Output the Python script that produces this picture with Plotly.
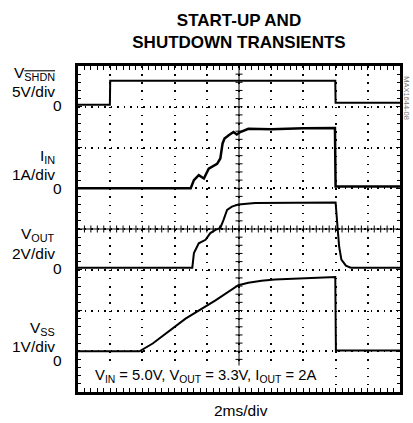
import plotly.graph_objects as go

# ---------------- data (time in ms, 2 ms/div) ----------------
t_shdn = [0, 1.98, 2.0, 15.98, 16.0, 20]
v_shdn = [0.25, 0.25, 3.2, 3.2, 0.5, 0.5]

t_iin = [0, 7.0, 7.2, 7.5, 7.82, 8.12, 8.64, 8.84, 8.98, 9.1, 9.36, 9.66, 9.86,
         10.08, 10.58, 12, 14, 15.96, 16.0, 20]
i_in = [0.0, 0.0, 0.2, 0.32, 0.24, 0.48, 0.6, 0.73, 1.1, 1.22, 1.3, 1.38, 1.32,
        1.38, 1.46, 1.45, 1.47, 1.48, 0.04, 0.04]

t_vout = [0, 7.1, 7.2, 7.5, 7.92, 8.22, 8.54, 8.84, 9.04, 9.26, 9.56, 9.96, 11,
          14, 16.0, 16.12, 16.22, 16.36, 16.64, 16.94, 20]
v_out = [0.1, 0.1, 0.82, 1.3, 1.47, 1.8, 1.96, 2.05, 2.45, 2.94, 3.1, 3.2, 3.28,
         3.3, 3.3, 2.1, 1.14, 0.5, 0.2, 0.1, 0.1]

t_vss = [0, 3.82, 4.64, 6.68, 8.54, 9.96, 10.58, 11.4, 12.22, 13.46, 15.5, 15.98, 16.02, 20]
v_ss = [0.0, 0.0, 0.19, 0.8, 1.25, 1.62, 1.68, 1.73, 1.76, 1.78, 1.81, 1.82, 0.02, 0.02]

# channel scales: zero of each channel sits on its own division
rng_shdn = [-35, 5]   # 5V/div
rng_iin = [-5, 3]     # 1A/div
rng_vout = [-6, 10]   # 2V/div
rng_vss = [-1, 7]     # 1V/div

FONT = "Liberation Sans Narrow, Arial Narrow, Liberation Sans, Arial, sans-serif"
LBL = 15.5

fig = go.Figure()
line = dict(color="black", width=2)
fig.add_trace(go.Scatter(x=t_shdn, y=v_shdn, mode="lines", line=line, yaxis="y", showlegend=False))
fig.add_trace(go.Scatter(x=t_iin, y=i_in, mode="lines", line=dict(color="black", width=2.5),
                         yaxis="y2", showlegend=False))
fig.add_trace(go.Scatter(x=t_vout, y=v_out, mode="lines", line=line, yaxis="y3", showlegend=False))
fig.add_trace(go.Scatter(x=t_vss, y=v_ss, mode="lines", line=line, yaxis="y4", showlegend=False))

hidden = dict(visible=False, overlaying="y", fixedrange=True)

fig.update_layout(
    width=413, height=423,
    margin=dict(l=78, r=10, t=66, b=31),
    paper_bgcolor="white", plot_bgcolor="white",
    font=dict(family=FONT, size=LBL, color="black"),
    title=dict(text="<b>START-UP AND<br>SHUTDOWN TRANSIENTS</b>",
               font=dict(family=FONT, size=17, color="black"),
               x=0.5, xref="paper", xanchor="center",
               y=1 - 26 / 423, yref="container", yanchor="middle"),
    xaxis=dict(range=[0, 20], dtick=2, tick0=0, showgrid=True, gridcolor="black",
               gridwidth=1.5, griddash="1.5px,6.65px", zeroline=False,
               showline=True, linecolor="black", linewidth=3, mirror="allticks",
               ticks="inside", ticklen=4, tickcolor="black", showticklabels=False,
               minor=dict(dtick=0.4, ticks="inside", ticklen=3, tickcolor="black", showgrid=False)),
    yaxis=dict(range=rng_shdn, dtick=5, tick0=0, showgrid=True, gridcolor="black",
               gridwidth=1.5, griddash="1.5px,5px", zeroline=False,
               showline=True, linecolor="black", linewidth=3, mirror="allticks",
               ticks="inside", ticklen=4, tickcolor="black", showticklabels=False,
               minor=dict(dtick=1, ticks="inside", ticklen=3, tickcolor="black", showgrid=False)),
    yaxis2=dict(range=rng_iin, **hidden),
    yaxis3=dict(range=rng_vout, **hidden),
    yaxis4=dict(range=rng_vss, **hidden),
)

# center crosshair with small ticks
shapes = [
    dict(type="line", xref="x", yref="paper", x0=10, x1=10, y0=0, y1=1,
         line=dict(color="black", width=1)),
    dict(type="line", xref="paper", yref="paper", x0=0, x1=1, y0=0.5, y1=0.5,
         line=dict(color="black", width=1)),
]
for k in range(1, 40):
    shapes.append(dict(type="line", xref="x", yref="paper", xsizemode="pixel", xanchor=10,
                       x0=-3.5, x1=3.5, y0=k / 40, y1=k / 40, line=dict(color="black", width=1)))
for k in range(1, 50):
    shapes.append(dict(type="line", xref="x", yref="paper", ysizemode="pixel", yanchor=0.5,
                       x0=k * 0.4, x1=k * 0.4, y0=-3.5, y1=3.5, line=dict(color="black", width=1)))
fig.update_layout(shapes=shapes)

# channel labels
channels = [
    ("y", 'V<sub><span style="text-decoration:overline">SHDN</span></sub>', "5V/div", 33, 15.5, 1),
    ("y2", "I<sub>IN</sub>", "1A/div", 32, 13.5, 0),
    ("y3", "V<sub>OUT</sub>", "2V/div", 35, 16, 1),
    ("y4", "V<sub>SS</sub>", "1V/div", 23, 5, -9),
]
ann = []
for yref, name, scale, s_name, s_scale, s_zero in channels:
    ann.append(dict(xref="paper", yref=yref, x=0, y=0, xanchor="right", yanchor="middle",
                    xshift=-21, yshift=s_name, text=name, showarrow=False))
    ann.append(dict(xref="paper", yref=yref, x=0, y=0, xanchor="right", yanchor="middle",
                    xshift=-21, yshift=s_scale, text=scale, showarrow=False))
    ann.append(dict(xref="paper", yref=yref, x=0, y=0, xanchor="right", yanchor="middle",
                    xshift=-14, yshift=s_zero, text="0", showarrow=False))

ann.append(dict(xref="paper", yref="paper", x=0.046, y=0.049, xanchor="left", yanchor="middle",
                text="V<sub>IN</sub> = 5.0V, V<sub>OUT</sub> = 3.3V, I<sub>OUT</sub> = 2A",
                font=dict(size=14.8), showarrow=False, bgcolor="white"))
ann.append(dict(xref="paper", yref="paper", x=0.505, y=-0.058, xanchor="center", yanchor="middle",
                text="2ms/div", showarrow=False))
ann.append(dict(xref="paper", yref="paper", x=1.02, y=0.9, xanchor="center", yanchor="middle",
                text="MAX1644-08", textangle=90, font=dict(size=7.5, color="#777"), showarrow=False))
fig.update_layout(annotations=ann)

fig.write_html("out.html", config={"displayModeBar": False},
               post_script="document.body.style.margin='0';")
